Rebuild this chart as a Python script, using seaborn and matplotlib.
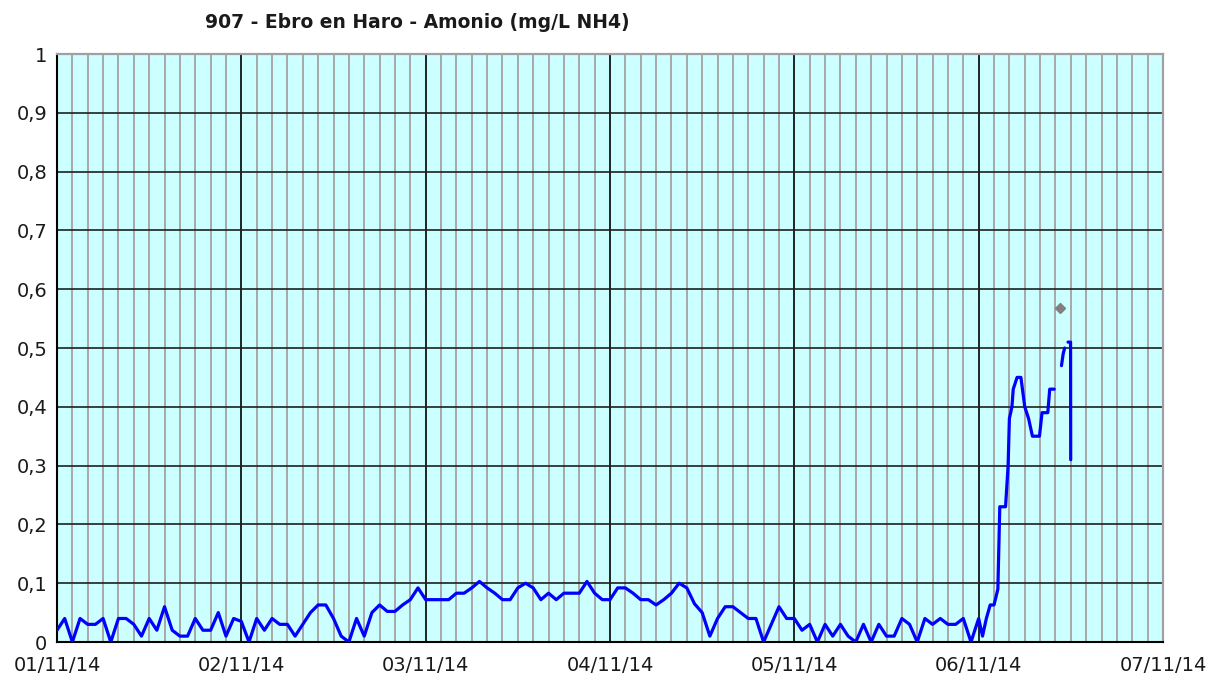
import matplotlib
matplotlib.use('Agg')

import numpy as np
import pandas as pd
import matplotlib.pyplot as plt
import matplotlib.dates as mdates
from matplotlib.ticker import FuncFormatter
import seaborn as sns

sns.set_style("white")
plt.rcParams['font.family'] = ['DejaVu Sans']

# Amonio (mg/L NH4), Werte stündlich
day1 = [0.02, 0.04, 0.00, 0.04, 0.03, 0.03, 0.04, 0.00, 0.04, 0.04, 0.03, 0.01,
        0.04, 0.02, 0.06, 0.02, 0.01, 0.01, 0.04, 0.02, 0.02, 0.05, 0.01, 0.04]
day2 = [0.035, 0.00, 0.04, 0.02, 0.04, 0.03, 0.03, 0.01, 0.03, 0.05, 0.063, 0.063,
        0.04, 0.01, 0.00, 0.04, 0.01, 0.05, 0.063, 0.052, 0.052, 0.063, 0.072, 0.092]
day3 = [0.072, 0.072, 0.072, 0.072, 0.083, 0.083, 0.092, 0.103, 0.092, 0.083, 0.072, 0.072,
        0.092, 0.10, 0.092, 0.072, 0.083, 0.072, 0.083, 0.083, 0.083, 0.103, 0.083, 0.072]
day4 = [0.072, 0.092, 0.092, 0.083, 0.072, 0.072, 0.063, 0.072, 0.083, 0.10, 0.092, 0.065,
        0.05, 0.01, 0.04, 0.06, 0.06, 0.05, 0.04, 0.04, 0.00, 0.03, 0.06, 0.04]
day5 = [0.04, 0.02, 0.03, 0.00, 0.03, 0.01, 0.03, 0.01, 0.00, 0.03, 0.00, 0.03,
        0.01, 0.01, 0.04, 0.03, 0.00, 0.04, 0.03, 0.04, 0.03, 0.03, 0.04, 0.00]

day6_times = ['00:00', '00:30', '01:00', '01:30', '02:00', '02:30', '02:45', '03:00',
              '03:30', '03:50', '04:00', '04:20', '04:30', '04:45', '05:00', '05:30',
              '06:00', '06:30', '07:00', '07:30', '07:55', '08:15', '09:00', '09:15',
              '09:50']
day6_values = [0.04, 0.01, 0.04, 0.063, 0.063, 0.09, 0.23, 0.23,
               0.23, 0.30, 0.38, 0.40, 0.43, 0.44, 0.45, 0.45,
               0.40, 0.38, 0.35, 0.35, 0.35, 0.39, 0.39, 0.43,
               0.43]

# kurze Stücke am Ende (mit Lücken dazwischen)
tail1_times = ['10:47', '11:00', '11:12']
tail1_values = [0.47, 0.49, 0.50]
tail2_times = ['11:38', '11:58', '11:59']
tail2_values = [0.51, 0.51, 0.31]

# einzelner grauer Punkt
point_time = '2014-11-06 10:38'
point_value = 0.568

title = '907 - Ebro en Haro - Amonio (mg/L NH4)'

main_values = day1 + day2 + day3 + day4 + day5
main_times = pd.date_range('2014-11-01 00:00', periods=len(main_values), freq='h')


def on_day6(times):
    return pd.to_datetime(['2014-11-06 ' + t for t in times])


df = pd.concat([
    pd.DataFrame({'time': main_times, 'value': main_values, 'seg': 0}),
    pd.DataFrame({'time': on_day6(day6_times), 'value': day6_values, 'seg': 0}),
    pd.DataFrame({'time': on_day6(tail1_times), 'value': tail1_values, 'seg': 1}),
    pd.DataFrame({'time': on_day6(tail2_times), 'value': tail2_values, 'seg': 2}),
], ignore_index=True)

fig = plt.figure(figsize=(12.22, 6.82), dpi=100)
ax = fig.add_axes([57 / 1222, 40 / 682, 1106 / 1222, 588 / 682])
ax.set_facecolor('#ccffff')
ax.set_axisbelow(True)

sns.lineplot(data=df, x='time', y='value', units='seg', estimator=None,
             color='#0000ff', lw=2.3, ax=ax, zorder=3)
ax.plot(pd.to_datetime([point_time]), [point_value], marker='D', ms=5,
        color='#808080', ls='none', zorder=4)

ax.set_xlim(pd.Timestamp('2014-11-01'), pd.Timestamp('2014-11-07'))
ax.set_ylim(0, 1)
ax.xaxis.set_major_locator(mdates.DayLocator())
ax.xaxis.set_minor_locator(mdates.HourLocator(byhour=range(0, 24, 2)))
ax.xaxis.set_major_formatter(mdates.DateFormatter('%d/%m/%y'))
ax.set_yticks(np.arange(0, 1.01, 0.1))
ax.yaxis.set_major_formatter(FuncFormatter(
    lambda v, p: '0' if abs(v) < 1e-9 else ('1' if abs(v - 1) < 1e-9 else f'{v:.1f}'.replace('.', ','))))

ax.grid(True, which='minor', axis='x', color='#a8a8a8', lw=1.4)
ax.grid(True, which='major', axis='x', color='black', lw=1.2)
ax.grid(True, which='major', axis='y', color='#202020', lw=1.2)

ax.tick_params(axis='both', which='major', direction='out', length=5, width=1.2,
               color='black', labelsize=14, labelcolor='#1a1a1a')
ax.tick_params(axis='x', pad=5)
ax.tick_params(axis='y', pad=2)
ax.tick_params(which='minor', length=0)
ax.set_xlabel('')
ax.set_ylabel('')

for side in ['left', 'bottom']:
    ax.spines[side].set_color('black')
    ax.spines[side].set_linewidth(1.5)
for side in ['top', 'right']:
    ax.spines[side].set_color('#a0a0a0')
    ax.spines[side].set_linewidth(1.6)

fig.text(205 / 1222, 1 - 22 / 682, title, fontsize=13.5, fontweight='bold',
         va='center', ha='left', color='#1a1a1a')

fig.savefig('out.png', dpi=100)
